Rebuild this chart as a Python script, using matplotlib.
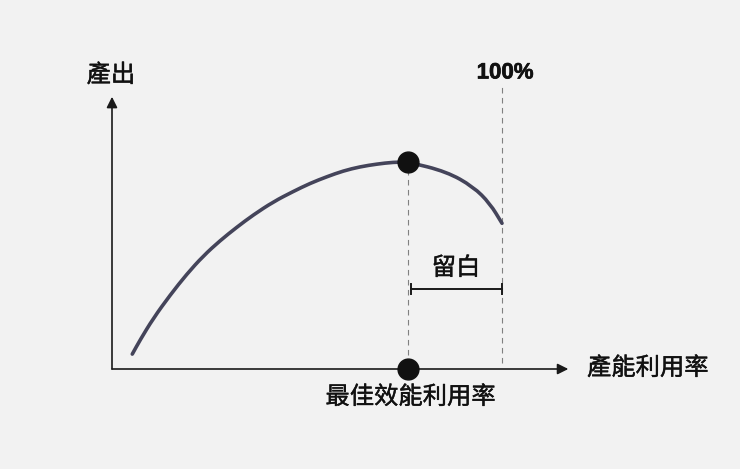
import matplotlib
matplotlib.use("Agg")
import matplotlib.pyplot as plt
import matplotlib.patheffects as pe
from matplotlib.path import Path
from matplotlib.patches import PathPatch

plt.rcParams['font.family'] = ['Noto Sans CJK TC', 'DejaVu Sans']

# Curve: capacity utilisation (%) vs output (peak = 100)
util = [5.2, 7.2, 10.6, 14.9, 19.2, 23.4, 27.7, 32.0, 36.2, 41.4, 46.4, 50.8,
        55.1, 59.3, 63.6, 67.9, 72.1, 76.0, 85.8, 92.6, 96.9, 100.0]
output = [7.2, 14.0, 24.5, 35.7, 45.9, 54.6, 62.0, 68.5, 74.4, 80.8, 85.7, 89.7,
          92.9, 95.7, 97.7, 99.0, 99.9, 100.0, 95.3, 88.1, 80.0, 70.4]

optimum_util = 76.0
optimum_output = 100.0
full_util = 100.0
margin_level = 38.6

y_label = "產出"
x_label = "產能利用率"
optimum_label = "最佳效能利用率"
margin_label = "留白"
full_label = "100%"

bg = "#f2f2f2"
fig = plt.figure(figsize=(7.4, 4.69), dpi=100, facecolor=bg)
ax = fig.add_axes([0, 0, 1, 1])
ax.set_facecolor(bg)
ax.set_xlim(-112 / 3.9, (740 - 112) / 3.9)
ax.set_ylim((369 - 469) / 2.07, 369 / 2.07)
ax.axis('off')

# axes with arrows
arrow_kw = dict(arrowstyle='-|>', color='#1a1a1a', lw=1.2, mutation_scale=16,
                shrinkA=0, shrinkB=0)
ax.annotate('', xy=(117.0, 0), xytext=(0, 0), arrowprops=arrow_kw)
ax.annotate('', xy=(0, 131.5), xytext=(0, 0), arrowprops=arrow_kw)

# dashed guides
ax.plot([optimum_util, optimum_util], [2, optimum_output], ls=(0, (5, 4)),
        color='#808080', lw=0.8)
ax.plot([full_util, full_util], [3, 137], ls=(0, (5, 4)), color='#808080', lw=0.8)

# curve: read points used as quadratic Bezier controls for a smooth stroke
pts = list(zip(util, output))
verts = [pts[0]]
codes = [Path.MOVETO]
verts.append(((pts[0][0] + pts[1][0]) / 2, (pts[0][1] + pts[1][1]) / 2))
codes.append(Path.LINETO)
for i in range(1, len(pts) - 1):
    mid = ((pts[i][0] + pts[i + 1][0]) / 2, (pts[i][1] + pts[i + 1][1]) / 2)
    verts += [pts[i], mid]
    codes += [Path.CURVE3, Path.CURVE3]
verts.append(pts[-1])
codes.append(Path.LINETO)
ax.add_patch(PathPatch(Path(verts, codes), facecolor='none', edgecolor='#44445a',
                       lw=2.6, capstyle='round', joinstyle='round', zorder=3))

# dots
ax.plot([optimum_util], [optimum_output], 'o', color='#111111', ms=15, zorder=4)
ax.plot([optimum_util], [0], 'o', color='#111111', ms=15, zorder=4)

# margin bracket
ax.plot([optimum_util + 0.6, full_util], [margin_level, margin_level],
        color='#1a1a1a', lw=1.4)
for xx in (optimum_util + 0.6, full_util):
    ax.plot([xx, xx], [margin_level - 2.6, margin_level + 2.6], color='#1a1a1a', lw=1.4)

# texts
tc = '#111111'
fs = 17.5
thick = [pe.withStroke(linewidth=0.3, foreground=tc)]
ax.text(-0.3, 142, y_label, ha='center', va='center', fontsize=fs, color=tc,
        path_effects=thick)
ax.text(121.8, 0.5, x_label, ha='left', va='center', fontsize=fs, color=tc,
        path_effects=thick)
ax.text(optimum_util + 0.5, -13.5, optimum_label, ha='center', va='center',
        fontsize=fs, color=tc, path_effects=thick)
ax.text(88.2, 48.8, margin_label, ha='center', va='center', fontsize=fs, color=tc,
        path_effects=thick)
ax.text(100.8, 143, full_label, ha='center', va='center', fontsize=16,
        fontweight='bold', family=['Liberation Sans', 'DejaVu Sans'], color=tc,
        path_effects=[pe.withStroke(linewidth=0.5, foreground=tc)])

fig.savefig('out.png', dpi=100, facecolor=bg)
